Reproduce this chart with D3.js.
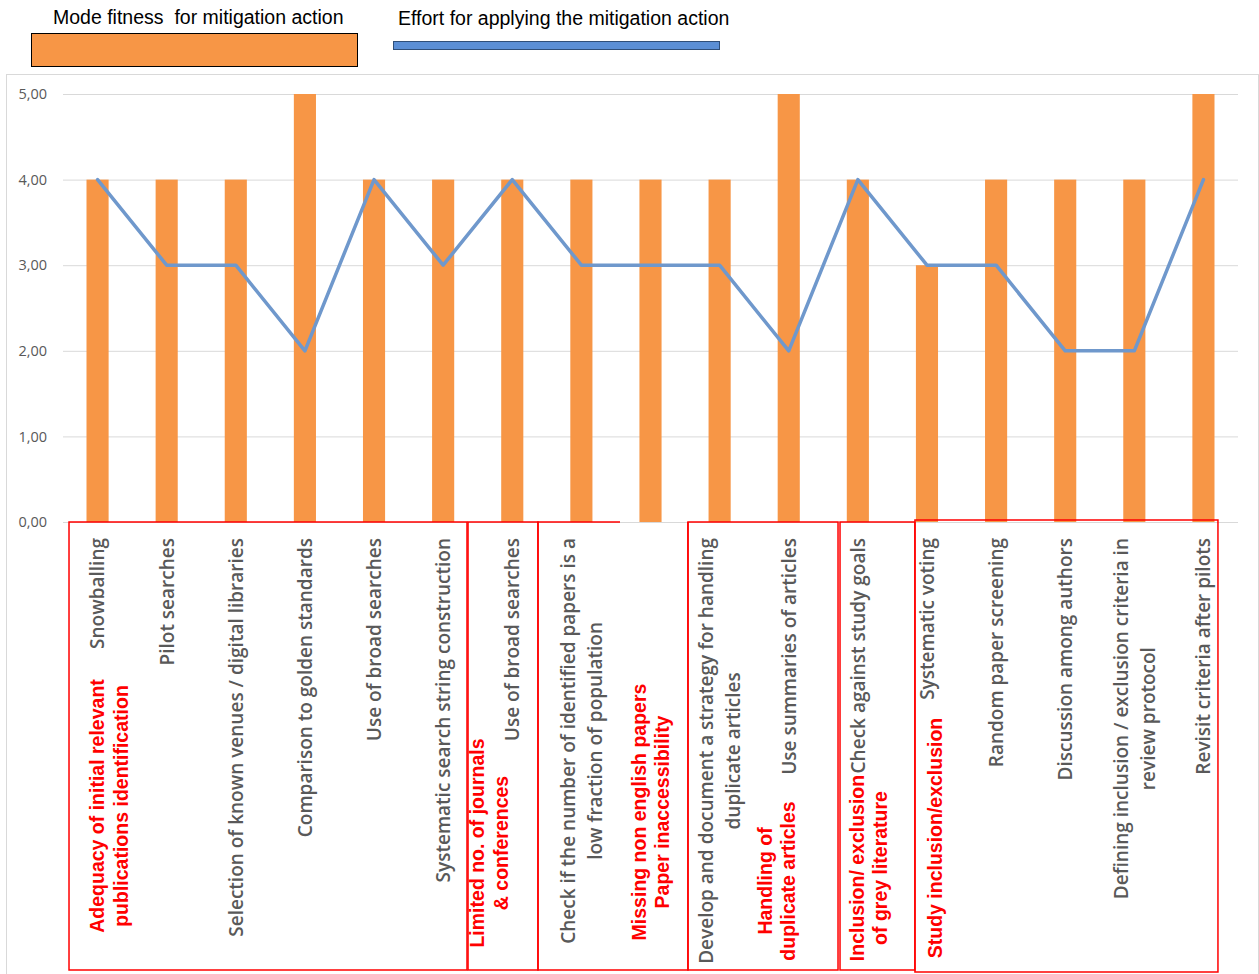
<!DOCTYPE html>
<html>
<head>
<meta charset="utf-8">
<script src="https://cdn.jsdelivr.net/npm/d3@7"></script>
<style>
  html, body { margin: 0; padding: 0; background: #fff; }
  svg { display: block; }
</style>
</head>
<body>
<svg id="chart" width="1259" height="974"></svg>
<script>
// ---------- DATA ----------
const categories = [
  "Snowballing",
  "Pilot searches",
  "Selection of known venues / digital libraries",
  "Comparison to golden standards",
  "Use of broad searches",
  "Systematic search string construction",
  "Use of broad searches",
  "Check if the number of identified papers is a\nlow fraction of population",
  "",
  "Develop and document a strategy for handling\nduplicate articles",
  "Use summaries of articles",
  "Check against study goals",
  "Systematic voting",
  "Random paper screening",
  "Discussion among authors",
  "Defining inclusion / exclusion criteria in\nreview protocol",
  "Revisit criteria after pilots"
];
const modeFitness = [4, 4, 4, 5, 4, 4, 4, 4, 4, 4, 5, 4, 3, 4, 4, 4, 5];
const effort      = [4, 3, 3, 2, 4, 3, 4, 3, 3, 3, 2, 4, 3, 3, 2, 2, 4];
const yTicks = [0, 1, 2, 3, 4, 5];
const seriesNames = ["Mode fitness  for mitigation action", "Effort for applying the mitigation action"];

// threat groups (red boxes) in category-index units
const groupBoxes = [
  { from: -0.413, to: 5.345 },
  { from: 5.36,  to: 6.372 },
  { from: 6.372, to: 8.542, topTo: 7.559 },
  { from: 8.542, to: 10.713 },
  { from: 10.742, to: 11.826 },
  { from: 11.826, to: 16.21, top: -0.03 }
];
const groupLabels = [
  { text: "Adequacy of initial relevant\npublications identification", at: 0.166, mid: 806 },
  { text: "Limited no. of journals\n& conferences", at: 5.663, mid: 843 },
  { text: "Missing non english papers\nPaper inaccessibility", at: 8.0, mid: 812 },
  { text: "Handling of\nduplicate articles", at: 9.82, mid: 881 },
  { text: "Inclusion/ exclusion\nof grey literature", at: 11.15, mid: 868 },
  { text: "Study inclusion/exclusion", at: 12.12, mid: 838 }
];

// ---------- LAYOUT ----------
const svg = d3.select("#chart");
const plotLeft = 63, plotRight = 1238, plotTop = 94, plotBottom = 522;
const orange = "#F79646", blue = "#6F98CC", grayText = "#595959";

const x = d3.scaleBand().domain(d3.range(categories.length)).range([plotLeft, plotRight]).paddingInner(0.68).paddingOuter(0.34);
const step = (plotRight - plotLeft) / categories.length;
const xi = i => plotLeft + (i + 0.5) * step;   // index units -> px
const y = d3.scaleLinear().domain([0, 5]).range([plotBottom, plotTop]);

// chart frame
svg.append("rect").attr("x", 6.5).attr("y", 74.5).attr("width", 1252).attr("height", 910)
  .attr("fill", "none").attr("stroke", "#D9D9D9").attr("stroke-width", 1);

// legend
const legend = svg.append("g").attr("font-family", "Liberation Sans, Arial, sans-serif").attr("font-size", 19.5).attr("fill", "#000")
  .style("white-space", "pre");
legend.append("text").attr("x", 53).attr("y", 24).attr("xml:space", "preserve").text(seriesNames[0]);
legend.append("rect").attr("x", 31.5).attr("y", 33.5).attr("width", 326).attr("height", 33)
  .attr("fill", orange).attr("stroke", "#000").attr("stroke-width", 1);
legend.append("text").attr("x", 398).attr("y", 25).text(seriesNames[1]);
legend.append("rect").attr("x", 393.5).attr("y", 41.5).attr("width", 326).attr("height", 8)
  .attr("fill", "#5B8FD6").attr("stroke", "#2F4F7A").attr("stroke-width", 1);

// gridlines + y axis
const yAxis = d3.axisLeft(y).tickValues(yTicks).tickSize(-(plotRight - plotLeft))
  .tickFormat(d => d3.format(".2f")(d).replace(".", ","));
const yg = svg.append("g").attr("transform", `translate(${plotLeft},0)`).call(yAxis);
yg.select(".domain").remove();
yg.selectAll(".tick line").attr("stroke", "#D9D9D9").attr("stroke-width", 1);
yg.selectAll(".tick text").attr("x", -16).attr("fill", grayText)
  .attr("font-family", "Open Sans, sans-serif").attr("font-size", 14.5);

// bars
svg.append("g").selectAll("rect").data(modeFitness).join("rect")
  .attr("x", (d, i) => x(i)).attr("width", x.bandwidth())
  .attr("y", d => y(d)).attr("height", d => y(0) - y(d))
  .attr("fill", orange);

// line
const line = d3.line().x((d, i) => x(i) + x.bandwidth() / 2).y(d => y(d));
svg.append("path").datum(effort).attr("d", line)
  .attr("fill", "none").attr("stroke", blue).attr("stroke-width", 3.5)
  .attr("stroke-linejoin", "round").attr("stroke-linecap", "round");

// red group boxes
const boxG = svg.append("g").attr("fill", "none").attr("stroke", "#FF0000").attr("stroke-width", 1.5);
const boxTop = 522, boxBottom = 970;
groupBoxes.forEach(b => {
  const x0 = xi(b.from), x1 = xi(b.to);
  const top = b.top !== undefined ? 520 : boxTop;
  const bottom = b.top !== undefined ? 972 : boxBottom;
  if (b.topTo !== undefined) {
    const xt = xi(b.topTo);
    boxG.append("path").attr("d", `M${xt},${top} H${x0} V${bottom} H${x1} V${top}`);
  } else {
    boxG.append("rect").attr("x", x0).attr("y", top).attr("width", x1 - x0).attr("height", bottom - top);
  }
});

// category labels (rotated, aligned to top, lines centered)
const catG = svg.append("g").attr("font-family", "Open Sans, sans-serif").attr("font-size", 19)
  .attr("font-weight", 600).attr("fill", grayText);
categories.forEach((c, i) => {
  if (!c) return;
  const lines = c.split("\n");
  const lh = 27;
  const g = catG.append("g").attr("transform", `translate(${x(i) + x.bandwidth() / 2},538) rotate(-90)`);
  const texts = lines.map((l, k) => g.append("text").text(l)
    .attr("y", (k - (lines.length - 1) / 2) * lh).attr("dy", "0.36em").attr("text-anchor", "middle"));
  const maxW = d3.max(texts, t => t.node().getComputedTextLength());
  texts.forEach(t => t.attr("x", -maxW / 2));
});

// red threat labels
const redG = svg.append("g").attr("font-family", "Liberation Sans, Arial, sans-serif").attr("font-size", 19.5)
  .attr("font-weight", "bold").attr("fill", "#FF0000");
groupLabels.forEach(gl => {
  const lines = gl.text.split("\n");
  const lh = 23.5;
  const g = redG.append("g").attr("transform", `translate(${xi(gl.at)},${gl.mid}) rotate(-90)`);
  lines.forEach((l, k) => g.append("text").text(l)
    .attr("x", 0).attr("y", (k - (lines.length - 1) / 2) * lh).attr("dy", "0.36em").attr("text-anchor", "middle"));
});
</script>
</body>
</html>
